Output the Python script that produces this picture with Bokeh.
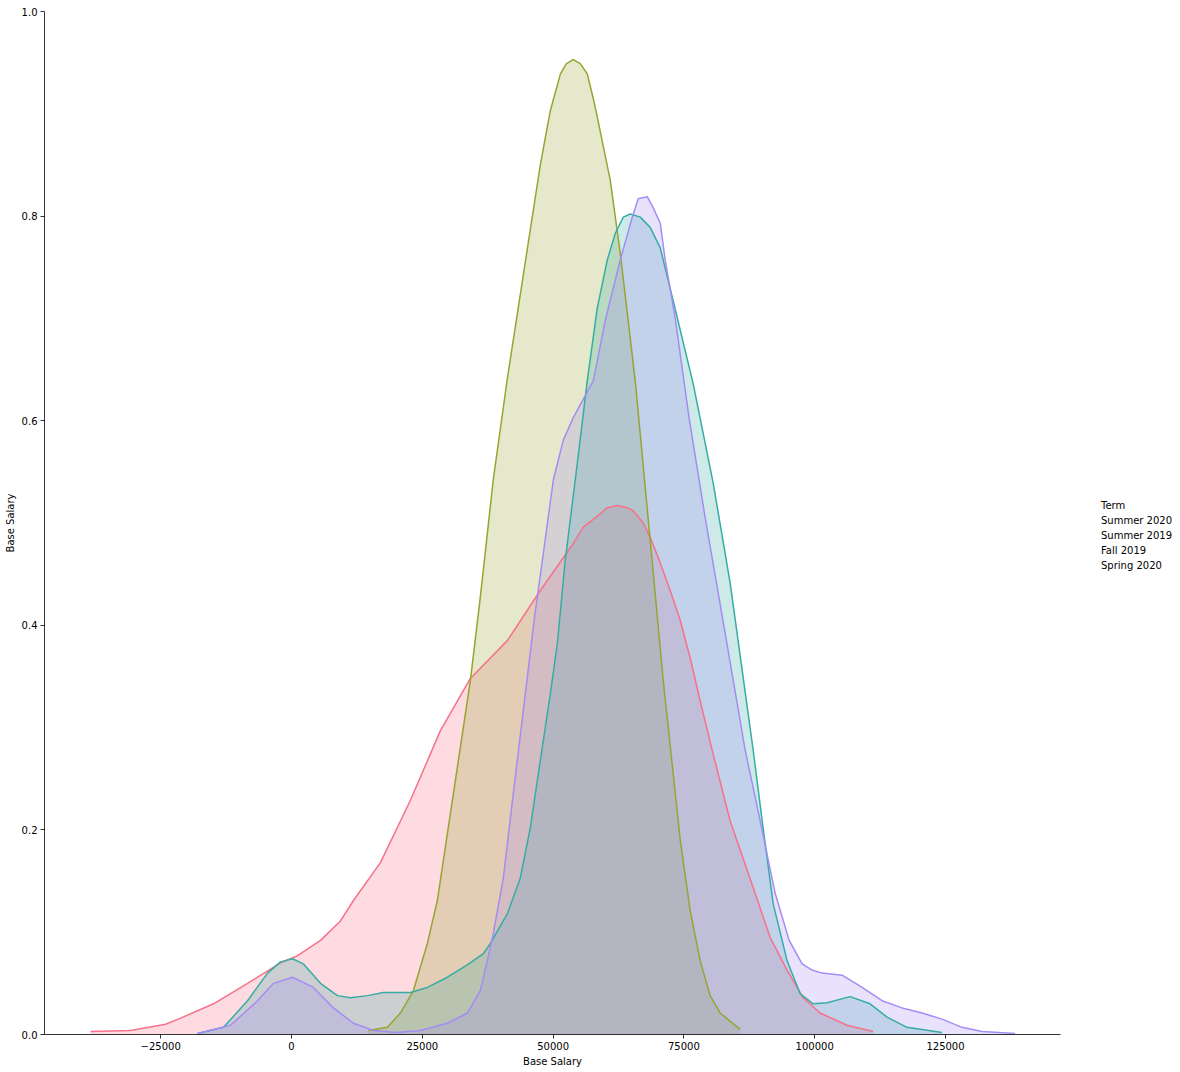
from bokeh.plotting import figure
from bokeh.models import FixedTicker, Legend, LegendItem, Range1d
from bokeh.embed import file_html
from bokeh.resources import INLINE

terms = ["Summer 2020", "Summer 2019", "Fall 2019", "Spring 2020"]
colors = ["#f77189", "#97a431", "#36ada4", "#a48cf4"]

summer2020_x = [-38390, -30750, -24070, -21200, -14900, -8400, -2100, 1150, 5540, 9360,
                11840, 17000, 22730, 28460, 34190, 41250, 47560, 53860, 55770, 59020,
                60350, 62260, 64180, 65320, 67230, 68560, 70470, 72380, 74290, 76200,
                78110, 80400, 83830, 88220, 91470, 94720, 97770, 101020, 106180, 111150]
summer2020_y = [0.003, 0.004, 0.010, 0.016, 0.030, 0.050, 0.070, 0.077, 0.092, 0.111,
                0.131, 0.168, 0.229, 0.297, 0.348, 0.385, 0.434, 0.480, 0.496, 0.509,
                0.515, 0.517, 0.515, 0.512, 0.500, 0.486, 0.461, 0.434, 0.405, 0.368,
                0.326, 0.278, 0.209, 0.144, 0.095, 0.063, 0.036, 0.021, 0.009, 0.003]

summer2019_x = [14710, 18340, 20820, 23300, 25970, 27880, 30370, 34190, 36100, 38580,
                41250, 45650, 47560, 49470, 51400, 52540, 53860, 55200, 56530, 57680,
                58440, 60930, 62830, 65700, 68560, 71050, 74300, 76200, 78110, 80020,
                81930, 85750]
summer2019_y = [0.004, 0.007, 0.021, 0.043, 0.089, 0.131, 0.216, 0.346, 0.428, 0.543,
                0.641, 0.787, 0.850, 0.903, 0.939, 0.949, 0.953, 0.949, 0.939, 0.915,
                0.897, 0.835, 0.764, 0.639, 0.483, 0.346, 0.190, 0.121, 0.072, 0.038,
                0.021, 0.005]

fall2019_x = [-17950, -12990, -8400, -4580, -2100, 190, 2290, 5540, 8790, 11270,
              14520, 17570, 22730, 25970, 29790, 33610, 36670, 38010, 41250, 43730,
              45640, 47560, 49470, 50810, 52330, 54620, 56530, 58440, 60350, 61880,
              63410, 64750, 66650, 68560, 70480, 72960, 76780, 80600, 83850, 88240,
              89960, 92060, 94730, 97210, 99690, 102370, 106760, 110580, 113830, 117650,
              124330]
fall2019_y = [0.001, 0.007, 0.033, 0.060, 0.071, 0.074, 0.069, 0.050, 0.038, 0.036,
              0.038, 0.041, 0.041, 0.046, 0.056, 0.068, 0.079, 0.089, 0.118, 0.153,
              0.202, 0.268, 0.333, 0.382, 0.464, 0.558, 0.639, 0.710, 0.757, 0.783,
              0.799, 0.802, 0.799, 0.789, 0.769, 0.717, 0.636, 0.539, 0.441, 0.278,
              0.209, 0.128, 0.072, 0.040, 0.030, 0.031, 0.037, 0.030, 0.017, 0.007,
              0.002]

spring2020_x = [-17950, -11650, -6490, -3440, 190, 4200, 8020, 11840, 15660, 20250,
                24640, 29790, 33610, 36100, 37430, 38580, 40490, 42400, 44690, 46600,
                47940, 50040, 51950, 53860, 57680, 59970, 62830, 65130, 66270, 67990,
                69140, 70480, 71430, 73340, 76010, 79070, 82890, 86710, 89570, 92440,
                95120, 97600, 99510, 101420, 105240, 109060, 112880, 116700, 120520, 124340,
                128160, 131980, 138280]
spring2020_y = [0.001, 0.009, 0.033, 0.050, 0.056, 0.046, 0.026, 0.011, 0.004, 0.002,
                0.004, 0.011, 0.021, 0.043, 0.072, 0.099, 0.153, 0.236, 0.333, 0.414,
                0.463, 0.542, 0.581, 0.603, 0.639, 0.698, 0.757, 0.799, 0.817, 0.819,
                0.808, 0.793, 0.757, 0.700, 0.602, 0.505, 0.392, 0.278, 0.209, 0.138,
                0.092, 0.069, 0.063, 0.060, 0.058, 0.046, 0.033, 0.026, 0.021, 0.015,
                0.007, 0.003, 0.001]

x_ticks = [-25000, 0, 25000, 50000, 75000, 100000, 125000]
x_tick_labels = ["\u221225000", "0", "25000", "50000", "75000", "100000", "125000"]
y_ticks = [0.0, 0.2, 0.4, 0.6, 0.8, 1.0]
y_tick_labels = ["0.0", "0.2", "0.4", "0.6", "0.8", "1.0"]

series = [
    (summer2020_x, summer2020_y),
    (summer2019_x, summer2019_y),
    (fall2019_x, fall2019_y),
    (spring2020_x, spring2020_y),
]

FONT = "DejaVu Sans"

p = figure(
    frame_width=1016, frame_height=1023,
    x_range=Range1d(-47210, 146980), y_range=Range1d(0, 1.0),
    output_backend="svg", toolbar_location=None,
    min_border_left=44, min_border_top=11, min_border_right=116, min_border_bottom=34,
    background_fill_color="white", border_fill_color="white",
)
p.outline_line_color = None
p.xgrid.visible = False
p.ygrid.visible = False

# fills first (below), then lines
for (xs, ys), c in zip(series, colors):
    p.varea(x=xs, y1=[0] * len(xs), y2=ys, fill_color=c, fill_alpha=0.25)
for (xs, ys), c in zip(series, colors):
    p.line(x=xs, y=ys, line_color=c, line_width=1.5, line_join="round")

for ax in (p.xaxis[0], p.yaxis[0]):
    ax.axis_label = "Base Salary"
    ax.axis_line_color = "black"
    ax.axis_line_width = 0.8
    ax.major_tick_line_color = "black"
    ax.major_tick_line_width = 0.8
    ax.major_tick_in = 0
    ax.major_tick_out = 4
    ax.minor_tick_in = 0
    ax.minor_tick_out = 0
    ax.major_label_text_font = FONT
    ax.major_label_text_font_size = "10px"
    ax.major_label_text_color = "black"
    ax.axis_label_text_font = FONT
    ax.axis_label_text_font_size = "10px"
    ax.axis_label_text_font_style = "normal"
    ax.axis_label_text_color = "black"

p.xaxis[0].ticker = FixedTicker(ticks=x_ticks)
p.xaxis[0].major_label_overrides = dict(zip(x_ticks, x_tick_labels))
p.xaxis[0].major_label_standoff = 3
p.xaxis[0].axis_label_standoff = 3
p.yaxis[0].ticker = FixedTicker(ticks=y_ticks)
p.yaxis[0].major_label_overrides = dict(zip(y_ticks, y_tick_labels))
p.yaxis[0].major_label_standoff = 3
p.yaxis[0].axis_label_standoff = 3

# legend without visible handles (as in the reference)
dummies = [p.scatter(x=[], y=[], fill_alpha=0, line_alpha=0) for _ in terms]
legend = Legend(
    items=[LegendItem(label=t, renderers=[d]) for t, d in zip(terms, dummies)],
    title="Term",
    location=(41, 461),
    padding=0, margin=0, spacing=0,
    glyph_width=0, glyph_height=15, label_height=15, label_standoff=0,
    border_line_color=None, background_fill_alpha=0,
    label_text_font=FONT, label_text_font_size="10px", label_text_color="black",
    title_text_font=FONT, title_text_font_size="10px", title_text_font_style="normal",
    title_text_color="black", title_standoff=2,
)
p.add_layout(legend, "right")

open("out.html", "w").write(file_html(p, INLINE))
